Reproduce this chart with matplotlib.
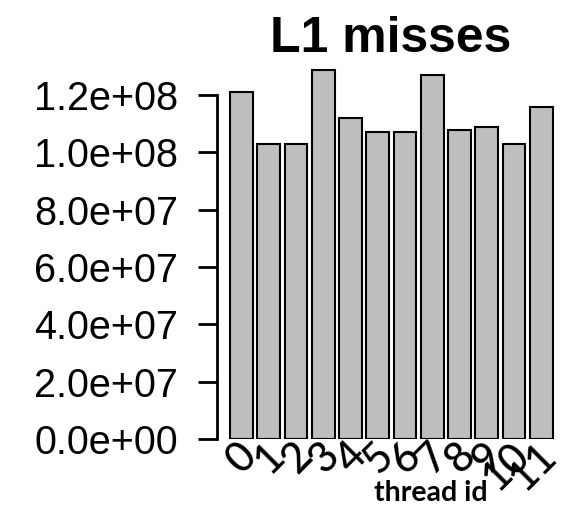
import matplotlib
matplotlib.use('Agg')
import matplotlib.pyplot as plt
import matplotlib.transforms as mtransforms
import numpy as np

# valeurs
threads = ['0', '1', '2', '3', '4', '5', '6', '7', '8', '9', '10', '11']
misses = [1.209e8, 1.029e8, 1.030e8, 1.288e8, 1.119e8, 1.070e8,
          1.070e8, 1.270e8, 1.079e8, 1.089e8, 1.029e8, 1.158e8]
yticks = [0, 2e7, 4e7, 6e7, 8e7, 1e8, 1.2e8]
ylabels = ['0.0e+00', '2.0e+07', '4.0e+07', '6.0e+07', '8.0e+07', '1.0e+08', '1.2e+08']

W, H = 569, 508
fig = plt.figure(figsize=(W / 100, H / 100), dpi=100)
ax = fig.add_axes([217 / W, (H - 439) / H, 348 / W, 379 / H])

x = np.arange(len(threads))
ax.bar(x, misses, width=0.833, color='#bebebe', edgecolor='black', linewidth=1.5)
ax.set_xlim(-0.895, 11.873)
ax.set_ylim(0, 1.3221e8)

for s in ['top', 'right', 'bottom']:
    ax.spines[s].set_visible(False)
ax.spines['left'].set_bounds(0, 1.2e8)
ax.spines['left'].set_linewidth(2)

ax.set_yticks(yticks)
ax.set_yticklabels(ylabels, fontfamily='Liberation Sans', fontsize=28.5)
ax.tick_params(axis='y', length=14, width=2, pad=14)

ax.set_xticks(x)
ax.set_xticklabels(threads, fontfamily='Lato', fontsize=30, fontweight='medium',
                   rotation=45, ha='right', va='top', rotation_mode='anchor')
ax.tick_params(axis='x', length=0, pad=-2)
# petit decalage vers la gauche des etiquettes
offset = mtransforms.ScaledTranslation(-4 / 100, 0, fig.dpi_scale_trans)
for lab in ax.get_xticklabels():
    lab.set_transform(lab.get_transform() + offset)

fig.text(391 / W, (H - 52) / H, 'L1 misses', ha='center', va='baseline',
         fontfamily='Liberation Sans', fontweight='bold', fontsize=36)
fig.text(431 / W, (H - 501) / H, 'thread id', ha='center', va='baseline',
         fontfamily='Lato', fontweight='bold', fontsize=20.5)

fig.savefig('out.png', dpi=100)
